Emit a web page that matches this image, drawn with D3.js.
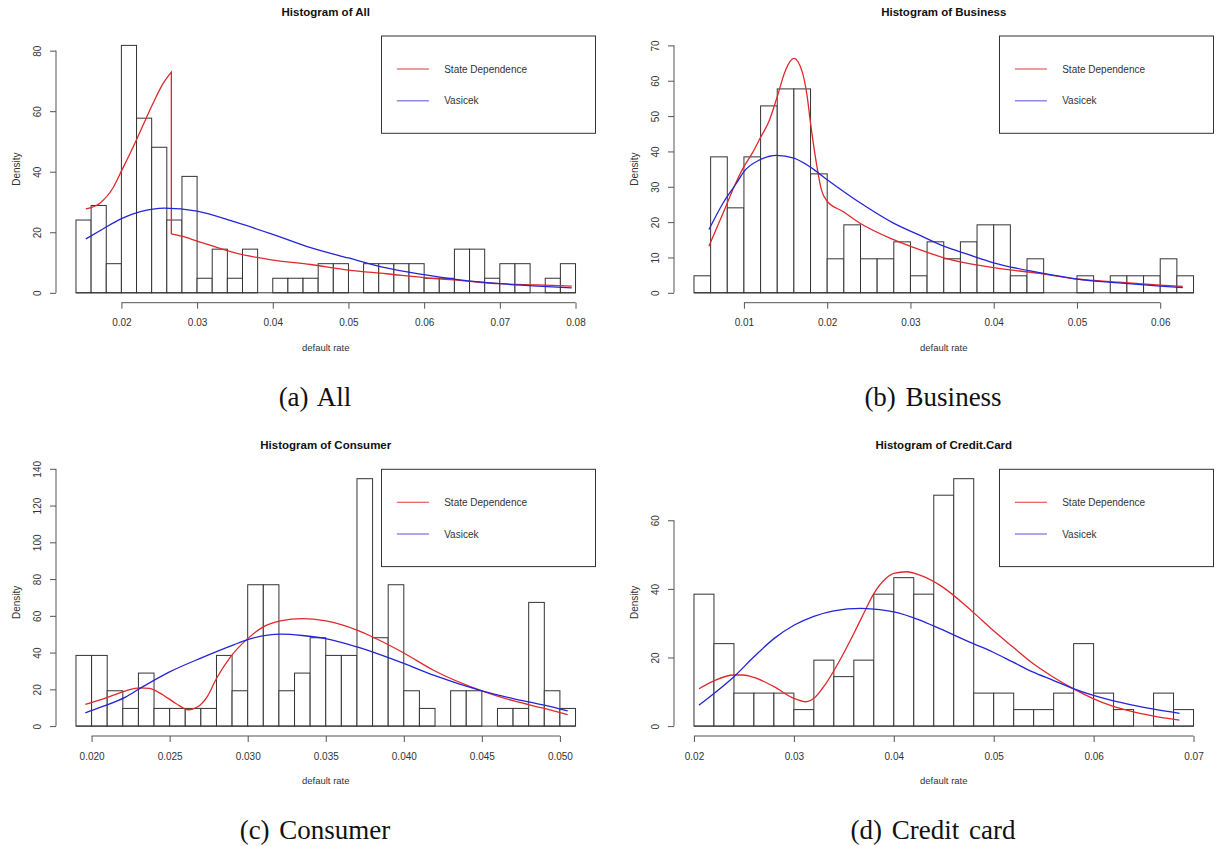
<!DOCTYPE html>
<html>
<head>
<meta charset="utf-8">
<script src="https://cdn.jsdelivr.net/npm/d3@7"></script>
<style>
  body { margin: 0; background: #fff; }
  svg { display: block; font-family: "Liberation Sans", Arial, sans-serif; }
</style>
</head>
<body>
<svg id="fig" width="1221" height="846"></svg>
<script>
// ---- histogram densities (bin start, bin width, density per bin) ----
const allStart = 0.014, allWidth = 0.002;
const allDensity = [24.04, 28.85, 9.62, 81.73, 57.69, 48.08, 24.04, 38.46, 4.81, 14.42, 4.81,
  14.42, 0, 4.81, 4.81, 4.81, 9.62, 9.62, 0, 9.62, 9.62, 9.62, 9.62, 4.81, 4.81, 14.42, 14.42,
  4.81, 9.62, 9.62, 0, 4.81, 9.62];

const businessStart = 0.004, businessWidth = 0.002;
const businessDensity = [4.81, 38.46, 24.04, 38.46, 52.88, 57.69, 57.69, 33.65, 9.62, 19.23,
  9.62, 9.62, 14.42, 4.81, 14.42, 9.62, 14.42, 19.23, 19.23, 4.81, 9.62, 0, 0, 4.81, 0, 4.81,
  4.81, 4.81, 9.62, 4.81];

const consumerStart = 0.019, consumerWidth = 0.001;
const consumerDensity = [38.46, 38.46, 19.23, 9.62, 28.85, 9.62, 9.62, 9.62, 9.62, 38.46,
  19.23, 76.92, 76.92, 19.23, 28.85, 48.08, 38.46, 38.46, 134.62, 48.08, 76.92, 19.23, 9.62, 0,
  19.23, 19.23, 0, 9.62, 9.62, 67.31, 19.23, 9.62];

const creditStart = 0.020, creditWidth = 0.002;
const creditDensity = [38.46, 24.04, 9.62, 9.62, 9.62, 4.81, 19.23, 14.42, 19.23, 38.46, 43.27,
  38.46, 67.31, 72.12, 9.62, 9.62, 4.81, 4.81, 9.62, 24.04, 9.62, 4.81, 0, 9.62, 4.81];

// ---- fitted densities: [default rate, density] ----
const allState = [[0.0153, 27.7], [0.0172, 29.7], [0.0189, 34.7], [0.0200, 40.2], [0.0216, 48.4],
  [0.0229, 55.6], [0.0242, 62.7], [0.0255, 69.1], [0.0266, 72.9], [0.0266, 19.5], [0.028, 18.7],
  [0.030, 17.1], [0.035, 13.2], [0.040, 10.8], [0.045, 9.35], [0.050, 7.5], [0.055, 6.3],
  [0.060, 5.0], [0.065, 4.0], [0.070, 3.0], [0.075, 2.6], [0.0795, 2.2]];
const allVasicek = [[0.0153, 17.8], [0.0175, 21.0], [0.0200, 24.5], [0.0225, 26.8], [0.0257, 28.0],
  [0.030, 27.0], [0.035, 23.4], [0.040, 19.3], [0.045, 14.9], [0.050, 11.5], [0.055, 8.2],
  [0.060, 6.0], [0.065, 4.2], [0.070, 3.0], [0.075, 2.2], [0.0795, 1.65]];

const businessState = [[0.0058, 13.2], [0.0075, 22.6], [0.0091, 31.5], [0.0100, 35.7],
  [0.0110, 39.5], [0.0120, 44.0], [0.0130, 48.5], [0.0140, 55.5], [0.0150, 63.0], [0.0160, 66.3],
  [0.0170, 62.5], [0.0176, 55.5], [0.0180, 48.0], [0.0187, 36.7], [0.0193, 29.2], [0.0200, 25.9],
  [0.0219, 23.0], [0.0240, 19.6], [0.0279, 15.1], [0.0311, 12.2], [0.034, 9.9], [0.040, 7.1],
  [0.0455, 5.5], [0.050, 3.9], [0.055, 3.0], [0.060, 2.2], [0.0627, 1.8]];
const businessVasicek = [[0.0058, 17.9], [0.0075, 25.4], [0.0091, 31.0], [0.0100, 34.3],
  [0.0119, 37.6], [0.0139, 38.9], [0.0160, 38.1], [0.0179, 35.7], [0.0200, 32.0], [0.0240, 25.4],
  [0.0279, 19.8], [0.0311, 16.3], [0.034, 13.2], [0.037, 10.8], [0.040, 8.5], [0.0455, 5.7],
  [0.050, 3.9], [0.055, 2.8], [0.060, 1.9], [0.0627, 1.45]];

const consumerState = [[0.0196, 11.8], [0.0205, 14.1], [0.0214, 16.8], [0.0222, 19.2],
  [0.0231, 20.8], [0.0237, 20.5], [0.0246, 16.8], [0.0254, 12.3], [0.0262, 8.9], [0.0268, 10.5],
  [0.0274, 15.9], [0.0280, 25.9], [0.0289, 37.7], [0.0300, 47.6], [0.0310, 54.0], [0.0321, 57.2],
  [0.0335, 58.5], [0.0350, 57.2], [0.0370, 52.2], [0.0380, 48.5], [0.0400, 39.8], [0.0419, 30.4],
  [0.0450, 19.2], [0.0470, 13.8], [0.0490, 9.6], [0.0505, 6.3]];
const consumerVasicek = [[0.0196, 7.2], [0.0205, 10.0], [0.0222, 15.9], [0.0231, 20.5],
  [0.0250, 29.5], [0.0270, 37.0], [0.0291, 44.2], [0.0300, 47.0], [0.0321, 50.0], [0.0335, 49.3],
  [0.0350, 47.6], [0.0370, 43.1], [0.0400, 34.1], [0.0419, 27.7], [0.0450, 19.2], [0.0470, 15.0],
  [0.0490, 11.4], [0.0505, 8.3]];

const creditState = [[0.0205, 10.9], [0.022, 13.2], [0.024, 14.9], [0.0249, 14.9], [0.026, 14.2],
  [0.028, 11.5], [0.030, 8.1], [0.0312, 7.1], [0.032, 8.1], [0.0332, 12.4], [0.0346, 19.2],
  [0.036, 27.0], [0.0369, 32.3], [0.038, 38.6], [0.0392, 43.0], [0.040, 44.5], [0.0413, 45.0],
  [0.0426, 44.0], [0.0446, 41.1], [0.0479, 33.3], [0.0499, 28.0], [0.0519, 23.1], [0.0539, 18.3],
  [0.0559, 14.4], [0.0579, 11.0], [0.0599, 8.1], [0.0619, 5.8], [0.0639, 4.2], [0.0659, 3.0],
  [0.0686, 1.75]];
const creditVasicek = [[0.0205, 6.1], [0.022, 9.5], [0.024, 14.4], [0.026, 20.2], [0.028, 25.5],
  [0.030, 29.4], [0.032, 32.0], [0.034, 33.6], [0.0367, 34.3], [0.038, 34.1], [0.040, 33.3],
  [0.0426, 30.9], [0.0446, 28.4], [0.0479, 24.1], [0.0499, 21.6], [0.0519, 18.7], [0.0539, 15.8],
  [0.0559, 13.4], [0.0579, 11.0], [0.0599, 9.0], [0.0619, 7.4], [0.0639, 6.1], [0.0659, 5.0],
  [0.0686, 3.7]];

// ---- axis ticks and y limits ----
const allXTicks = [0.02, 0.03, 0.04, 0.05, 0.06, 0.07, 0.08];
const allYTicks = [0, 20, 40, 60, 80];
const businessXTicks = [0.01, 0.02, 0.03, 0.04, 0.05, 0.06];
const businessYTicks = [0, 10, 20, 30, 40, 50, 60, 70];
const consumerXTicks = [0.020, 0.025, 0.030, 0.035, 0.040, 0.045, 0.050];
const consumerYTicks = [0, 20, 40, 60, 80, 100, 120, 140];
const creditXTicks = [0.02, 0.03, 0.04, 0.05, 0.06, 0.07];
const creditYTicks = [0, 20, 40, 60];
const yLimits = [81.73, 70, 134.62, 72.12];

const titles = ["Histogram of All", "Histogram of Business", "Histogram of Consumer", "Histogram of Credit.Card"];
const captions = ["(a) All", "(b) Business", "(c) Consumer", "(d) Credit card"];
const legendLabels = ["State Dependence", "Vasicek"];

const panels = [
  { col: 0, row: 0, start: allStart, width: allWidth, dens: allDensity, state: allState, vas: allVasicek, xt: allXTicks, yt: allYTicks, xf: ".2f" },
  { col: 1, row: 0, start: businessStart, width: businessWidth, dens: businessDensity, state: businessState, vas: businessVasicek, xt: businessXTicks, yt: businessYTicks, xf: ".2f" },
  { col: 0, row: 1, start: consumerStart, width: consumerWidth, dens: consumerDensity, state: consumerState, vas: consumerVasicek, xt: consumerXTicks, yt: consumerYTicks, xf: ".3f" },
  { col: 1, row: 1, start: creditStart, width: creditWidth, dens: creditDensity, state: creditState, vas: creditVasicek, xt: creditXTicks, yt: creditYTicks, xf: ".2f" }
].map((p, i) => Object.assign(p, { title: titles[i], caption: captions[i], ymax: yLimits[i] }));

const svg = d3.select("#fig");
const FONT = '"Liberation Sans", Arial, sans-serif';
const INK = "#333";

// split a curve wherever x repeats (a jump) and draw it as one path
function curvePath(pts, line) {
  const segs = [[pts[0]]];
  for (let i = 1; i < pts.length; i++) {
    if (pts[i][0] === pts[i - 1][0]) segs.push([pts[i]]);
    else segs[segs.length - 1].push(pts[i]);
  }
  return segs.map((s, i) => i ? line(s).replace(/^M/, "L") : line(s)).join("");
}

panels.forEach(p => {
  const colX = p.col * 618, rowY = p.row * 433.3;
  const left = 56 + colX, right = left + 539.5;
  const top = 35.5 + rowY, bottom = 302.7 + rowY;

  const n = p.dens.length;
  const edges = d3.range(n + 1).map(i => p.start + i * p.width);
  const bins = p.dens.map((v, i) => ({ x0: edges[i], x1: edges[i + 1], v }));
  const lo = edges[0], hi = edges[n];
  const padX = (hi - lo) * 0.04, padY = p.ymax * 0.04;

  const x = d3.scaleLinear().domain([lo - padX, hi + padX]).range([left, right]);
  const y = d3.scaleLinear().domain([-padY, p.ymax + padY]).range([bottom, top]);

  const g = svg.append("g");

  // histogram bars (empty bins only show the baseline)
  g.append("g").selectAll("rect").data(bins.filter(b => b.v > 0)).join("rect")
    .attr("x", b => x(b.x0))
    .attr("width", b => x(b.x1) - x(b.x0))
    .attr("y", b => y(b.v))
    .attr("height", b => y(0) - y(b.v))
    .attr("fill", "#fff").attr("stroke", INK).attr("stroke-width", 1);
  g.append("line")
    .attr("x1", x(lo)).attr("x2", x(hi)).attr("y1", y(0)).attr("y2", y(0))
    .attr("stroke", INK).attr("stroke-width", 1);

  // fitted curves
  const line = d3.line().x(d => x(d[0])).y(d => y(d[1])).curve(d3.curveMonotoneX);
  g.append("path").attr("d", curvePath(p.state, line))
    .attr("fill", "none").attr("stroke", "#e0282c").attr("stroke-width", 1.3);
  g.append("path").attr("d", curvePath(p.vas, line))
    .attr("fill", "none").attr("stroke", "#2424d8").attr("stroke-width", 1.3);

  // x axis
  const xa = g.append("g").attr("transform", `translate(0,${bottom})`)
    .call(d3.axisBottom(x).tickValues(p.xt).tickSize(6).tickSizeOuter(0)
      .tickPadding(10.7).tickFormat(d3.format(p.xf)));
  xa.select(".domain").remove();
  xa.append("line").attr("x1", x(p.xt[0])).attr("x2", x(p.xt[p.xt.length - 1]))
    .attr("stroke", "#555");
  xa.selectAll(".tick line").attr("stroke", "#555");
  xa.selectAll("text").attr("fill", INK).style("font-family", FONT).style("font-size", "10px");

  // y axis with vertical labels
  const ya = g.append("g").attr("transform", `translate(${left},0)`)
    .call(d3.axisLeft(y).tickValues(p.yt).tickSize(6).tickSizeOuter(0));
  ya.select(".domain").remove();
  ya.append("line").attr("y1", y(p.yt[0])).attr("y2", y(p.yt[p.yt.length - 1]))
    .attr("stroke", "#555");
  ya.selectAll(".tick line").attr("stroke", "#555");
  ya.selectAll("text")
    .attr("x", null).attr("dy", null)
    .attr("text-anchor", "middle")
    .attr("transform", "translate(-15,0) rotate(-90)")
    .attr("fill", INK).style("font-family", FONT).style("font-size", "10px");

  // titles and axis labels
  const cx = (left + right) / 2;
  g.append("text").attr("x", cx).attr("y", 16 + rowY).attr("text-anchor", "middle")
    .style("font-family", FONT).style("font-size", "11.5px").style("font-weight", "bold")
    .attr("fill", "#111").text(p.title);
  g.append("text").attr("x", cx).attr("y", 350.5 + rowY).attr("text-anchor", "middle")
    .style("font-family", FONT).style("font-size", "9.5px").attr("fill", INK).text("default rate");
  g.append("text").attr("transform", `translate(${19.5 + colX},${(top + bottom) / 2}) rotate(-90)`)
    .attr("text-anchor", "middle").style("font-family", FONT).style("font-size", "10px")
    .attr("fill", INK).text("Density");

  // legend (top right)
  const lx = right - 214, ly = top + 0.5;
  const lg = g.append("g");
  lg.append("rect").attr("x", lx).attr("y", ly).attr("width", 214).attr("height", 97.3)
    .attr("fill", "#fff").attr("stroke", INK).attr("stroke-width", 1);
  const legendColors = ["#e23a3e", "#8c8ce2"];
  const legendWidths = [1.1, 1.6];
  [33, 64.7].forEach((dy, i) => {
    lg.append("line").attr("x1", lx + 15.4).attr("x2", lx + 47.4)
      .attr("y1", ly + dy).attr("y2", ly + dy)
      .attr("stroke", legendColors[i]).attr("stroke-width", legendWidths[i]);
    lg.append("text").attr("x", lx + 62.7).attr("y", ly + dy + 3.6)
      .style("font-family", FONT).style("font-size", "10px").attr("fill", INK)
      .text(legendLabels[i]);
  });

  // sub-figure caption
  g.append("text").attr("x", 315 + colX).attr("y", 406 + rowY).attr("text-anchor", "middle")
    .style("word-spacing", "3px")
    .style("font-family", '"Liberation Serif", "Times New Roman", serif')
    .style("font-size", "27px").attr("fill", "#111").text(p.caption);
});
</script>
</body>
</html>
